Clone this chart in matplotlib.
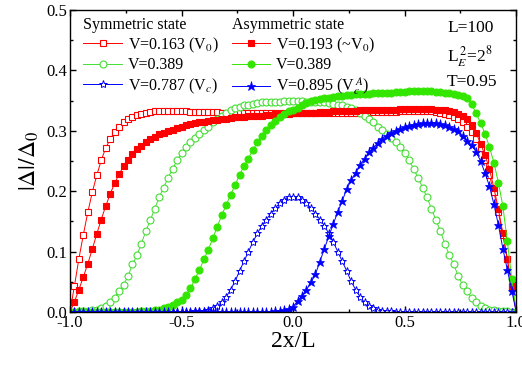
import numpy as np
import matplotlib
matplotlib.use("Agg")
import matplotlib.pyplot as plt
from matplotlib.ticker import MultipleLocator

plt.rcParams['font.family'] = ['Liberation Serif', 'DejaVu Serif']
plt.rcParams['mathtext.fontset'] = 'stix'

# lattice positions 2x/L for L=100 sites
x = np.linspace(-1.0, 1.0, 101)

# symmetric state, V=0.163 (V0)
sym_v0 = [0.000, 0.043, 0.088, 0.128, 0.165, 0.198, 0.226, 0.251, 0.271, 0.286,
          0.298, 0.307, 0.314, 0.319, 0.323, 0.326, 0.328, 0.330, 0.331, 0.332,
          0.332, 0.332, 0.332, 0.332, 0.332, 0.332, 0.332, 0.331, 0.331, 0.331,
          0.331, 0.331, 0.331, 0.331, 0.330, 0.330, 0.330, 0.330, 0.330, 0.330,
          0.330, 0.330, 0.330, 0.330, 0.330, 0.330, 0.330, 0.330, 0.330, 0.330,
          0.330,
          0.330, 0.330, 0.330, 0.330, 0.330, 0.330, 0.330, 0.330, 0.330, 0.330,
          0.330, 0.330, 0.330, 0.330, 0.330, 0.330, 0.331, 0.331, 0.331, 0.331,
          0.331, 0.331, 0.331, 0.332, 0.332, 0.332, 0.332, 0.332, 0.332, 0.332,
          0.332, 0.331, 0.330, 0.328, 0.326, 0.323, 0.319, 0.314, 0.307, 0.298,
          0.286, 0.271, 0.251, 0.226, 0.198, 0.165, 0.128, 0.088, 0.043, 0.000]

# symmetric state, V=0.389
sym_v389 = [0.000, 0.000, 0.001, 0.001, 0.002, 0.003, 0.004, 0.007, 0.010, 0.016,
            0.023, 0.035, 0.045, 0.059, 0.079, 0.094, 0.113, 0.134, 0.152, 0.171,
            0.190, 0.206, 0.222, 0.237, 0.251, 0.263, 0.273, 0.281, 0.288, 0.295,
            0.301, 0.307, 0.314, 0.319, 0.324, 0.329, 0.334, 0.337, 0.340, 0.342,
            0.343, 0.345, 0.346, 0.347, 0.347, 0.348, 0.348, 0.348, 0.349, 0.349,
            0.349,
            0.349, 0.349, 0.348, 0.348, 0.348, 0.347, 0.347, 0.346, 0.345, 0.343,
            0.342, 0.340, 0.337, 0.334, 0.329, 0.324, 0.319, 0.314, 0.307, 0.301,
            0.295, 0.288, 0.281, 0.273, 0.263, 0.251, 0.237, 0.222, 0.206, 0.190,
            0.171, 0.152, 0.134, 0.113, 0.094, 0.079, 0.059, 0.045, 0.035, 0.023,
            0.016, 0.010, 0.007, 0.004, 0.003, 0.002, 0.001, 0.001, 0.000, 0.000]

# symmetric state, V=0.787 (Vc)
sym_vc = [0.000, 0.000, 0.000, 0.000, 0.000, 0.000, 0.000, 0.000, 0.000, 0.000,
          0.000, 0.000, 0.000, 0.000, 0.000, 0.000, 0.000, 0.000, 0.000, 0.000,
          0.000, 0.000, 0.000, 0.000, 0.000, 0.000, 0.000, 0.000, 0.001, 0.001,
          0.002, 0.004, 0.006, 0.010, 0.016, 0.025, 0.037, 0.051, 0.068, 0.084,
          0.100, 0.116, 0.130, 0.143, 0.153, 0.163, 0.172, 0.180, 0.186, 0.190,
          0.191,
          0.190, 0.186, 0.180, 0.172, 0.163, 0.153, 0.143, 0.130, 0.116, 0.100,
          0.084, 0.068, 0.051, 0.037, 0.025, 0.016, 0.010, 0.006, 0.004, 0.002,
          0.001, 0.001, 0.000, 0.000, 0.000, 0.000, 0.000, 0.000, 0.000, 0.000,
          0.000, 0.000, 0.000, 0.000, 0.000, 0.000, 0.000, 0.000, 0.000, 0.000,
          0.000, 0.000, 0.000, 0.000, 0.000, 0.000, 0.000, 0.000, 0.000, 0.000]

# asymmetric state, V=0.193 (~V0)
asym_v0 = [0.000, 0.017, 0.037, 0.058, 0.080, 0.104, 0.129, 0.153, 0.175, 0.195,
           0.213, 0.228, 0.241, 0.252, 0.261, 0.269, 0.275, 0.281, 0.286, 0.290,
           0.294, 0.297, 0.300, 0.302, 0.305, 0.307, 0.309, 0.311, 0.312, 0.314,
           0.315, 0.316, 0.317, 0.318, 0.319, 0.320, 0.321, 0.322, 0.322, 0.323,
           0.324, 0.324, 0.325, 0.325, 0.326, 0.326, 0.327, 0.327, 0.328, 0.328,
           0.329,
           0.329, 0.329, 0.330, 0.330, 0.330, 0.331, 0.331, 0.331, 0.332, 0.332,
           0.332, 0.333, 0.333, 0.333, 0.334, 0.334, 0.334, 0.334, 0.335, 0.335,
           0.335, 0.335, 0.335, 0.336, 0.336, 0.336, 0.336, 0.336, 0.336,
           0.336, 0.336, 0.335, 0.335, 0.334, 0.333, 0.331, 0.328, 0.325, 0.320,
           0.309, 0.297, 0.278, 0.260, 0.236, 0.205, 0.170, 0.130, 0.087, 0.042,
           0.000]

# asymmetric state, V=0.389
asym_v389 = [0.000, 0.000, 0.000, 0.000, 0.000, 0.000, 0.000, 0.000, 0.000, 0.000,
             0.000, 0.000, 0.000, 0.000, 0.000, 0.000, 0.001, 0.001, 0.002, 0.003,
             0.004, 0.006, 0.009, 0.012, 0.016, 0.020, 0.028, 0.039, 0.055, 0.069,
             0.087, 0.103, 0.122, 0.141, 0.160, 0.177, 0.194, 0.210, 0.227, 0.241,
             0.254, 0.268, 0.281, 0.291, 0.301, 0.309, 0.316, 0.322, 0.328, 0.332,
             0.335,
             0.338, 0.342, 0.346, 0.349, 0.351, 0.353, 0.354, 0.355, 0.356, 0.357,
             0.358, 0.359, 0.359, 0.360, 0.360, 0.361, 0.361, 0.362, 0.362, 0.363,
             0.363, 0.363, 0.364, 0.364, 0.364, 0.365, 0.365, 0.365, 0.365, 0.365,
             0.365, 0.364, 0.364, 0.363, 0.362, 0.361, 0.359, 0.357, 0.354, 0.344,
             0.329, 0.313, 0.295, 0.273, 0.247, 0.214, 0.175, 0.117, 0.055, 0.000]

# asymmetric state, V=0.895 (Vc^A)
asym_vc = [0.000, 0.000, 0.000, 0.000, 0.000, 0.000, 0.000, 0.000, 0.000, 0.000,
           0.000, 0.000, 0.000, 0.000, 0.000, 0.000, 0.000, 0.000, 0.000, 0.000,
           0.000, 0.000, 0.000, 0.000, 0.000, 0.000, 0.000, 0.000, 0.000, 0.000,
           0.000, 0.000, 0.000, 0.000, 0.000, 0.000, 0.000, 0.000, 0.000, 0.000,
           0.000, 0.000, 0.000, 0.000, 0.000, 0.000, 0.001, 0.002, 0.003, 0.005,
           0.009,
           0.018, 0.027, 0.037, 0.049, 0.063, 0.083, 0.105, 0.125, 0.146, 0.165,
           0.184, 0.203, 0.219, 0.230, 0.243, 0.254, 0.264, 0.272, 0.280, 0.287,
           0.292, 0.296, 0.300, 0.303, 0.306, 0.308, 0.310, 0.311, 0.312, 0.313,
           0.313, 0.312, 0.311, 0.309, 0.306, 0.303, 0.299, 0.291, 0.283, 0.276,
           0.265, 0.250, 0.230, 0.208, 0.178, 0.144, 0.105, 0.070, 0.035, 0.000]

RED = '#ff0000'
GREEN = '#33e600'
GREEN_OPEN = '#44dd33'
BLUE = '#0000ff'

fig = plt.figure(figsize=(5.22, 3.66), dpi=100)
ax = fig.add_axes([0.134, 0.1475, 0.855, 0.8255])

ms = dict(markersize=4.5, markeredgewidth=0.8)
l1, = ax.plot(x, sym_v0, '-', color=RED, lw=0.7, marker='s', mfc='white', mec=RED, **ms)
l2, = ax.plot(x, sym_v389, '-', color=GREEN_OPEN, lw=0.7, marker='o', mfc='white', mec=GREEN_OPEN,
              markersize=5, markeredgewidth=0.8)
l3, = ax.plot(x, sym_vc, '-', color=BLUE, lw=0.7, marker='*', mfc='white', mec=BLUE,
              markersize=6, markeredgewidth=0.7)
l4, = ax.plot(x, asym_v0, '-', color=RED, lw=0.7, marker='s', mfc=RED, mec=RED, **ms)
l5, = ax.plot(x, asym_v389, '-', color=GREEN, lw=0.7, marker='o', mfc=GREEN, mec=GREEN,
              markersize=5, markeredgewidth=0.8)
l6, = ax.plot(x, asym_vc, '-', color=BLUE, lw=0.7, marker='*', mfc=BLUE, mec=BLUE,
              markersize=6.5, markeredgewidth=0.5)

ax.set_xlim(-1.0, 1.0)
ax.set_ylim(0.0, 0.5)
ax.xaxis.set_major_locator(MultipleLocator(0.5))
ax.xaxis.set_minor_locator(MultipleLocator(0.25))
ax.yaxis.set_major_locator(MultipleLocator(0.1))
ax.yaxis.set_minor_locator(MultipleLocator(0.05))
ax.xaxis.set_major_formatter(plt.FormatStrFormatter('%.1f'))
ax.yaxis.set_major_formatter(plt.FormatStrFormatter('%.1f'))
ax.tick_params(which='both', direction='in', top=True, right=True, labelsize=12, pad=2)
ax.tick_params(which='major', length=4, width=1)
ax.tick_params(which='minor', length=2.5, width=1)
for s in ax.spines.values():
    s.set_linewidth(1.0)

ax.set_xlabel('2x/L', fontsize=17, labelpad=0)
ax.set_ylabel(r'$|\Delta|/\Delta_0$', fontsize=17, labelpad=4)

leg_kw = dict(loc='upper left', frameon=False, fontsize=11.5, title_fontsize=11.5,
              handlelength=2.4, handletextpad=0.4, labelspacing=0.18,
              borderaxespad=0, borderpad=0, alignment='left')
leg1 = ax.legend([l1, l2, l3], ['V=0.163 (V$_0$)', 'V=0.389', 'V=0.787 (V$_c$)'],
                 title='Symmetric state', bbox_to_anchor=(0.03, 0.978), **leg_kw)
ax.add_artist(leg1)
ax.legend([l4, l5, l6], ['V=0.193 (~V$_0$)', 'V=0.389', 'V=0.895 (V$_c^{\\,A}$)'],
          title='Asymmetric state', bbox_to_anchor=(0.362, 0.978), **leg_kw)

ax.text(0.845, 0.94, 'L=100', transform=ax.transAxes, fontsize=12.5, va='center')
ax.text(0.845, 0.845, r'L$_E^{\,2}$=2$^8$', transform=ax.transAxes, fontsize=12.5, va='center')
ax.text(0.845, 0.76, 'T=0.95', transform=ax.transAxes, fontsize=12.5, va='center')

fig.savefig('out.png', dpi=100)
